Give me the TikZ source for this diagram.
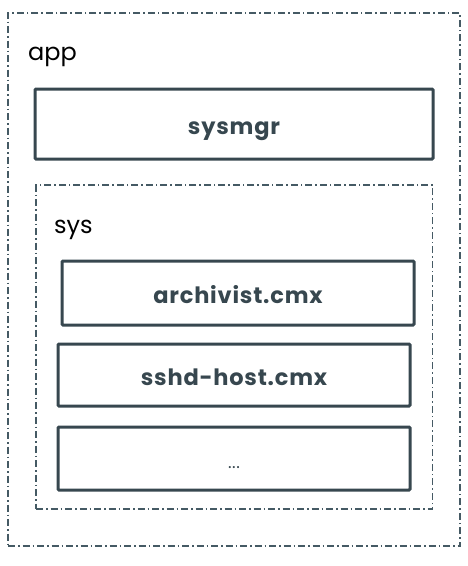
\documentclass[tikz,border=0pt]{standalone}
\usepackage{fontspec}
\setmainfont{Poppins}
\newfontfamily\boxfont{Poppins}[LetterSpace=3.5]
\definecolor{slate}{HTML}{37474F}
\definecolor{dashc}{HTML}{455A64}
\begin{document}
\begin{tikzpicture}[x=1pt,y=-1pt,
  container/.style={draw=dashc, line width=1.3pt, dash pattern=on 7pt off 3pt on 1.5pt off 3pt, rectangle, inner sep=0pt},
  compbox/.style={draw=slate, line width=3pt, rectangle, inner sep=0pt, text=slate, font=\boxfont\bfseries\fontsize{22.5}{28}\selectfont, text height=20pt, text depth=0pt, rounded corners=1pt},
  grouplabel/.style={anchor=base west, inner sep=0pt, font=\fontsize{24}{28}\selectfont, text=black}]
\useasboundingbox (0,0) rectangle (467,566);
\node[container, minimum width=452pt, minimum height=533pt] (app) at (234,279.5) {};
\node[grouplabel] (applabel) at (28,60) {app};
\node[compbox, minimum width=398pt, minimum height=70pt] (sysmgr) at (234,124) {sysmgr};
\node[container, minimum width=396.5pt, minimum height=324pt] (sys) at (234.3,347) {};
\node[grouplabel] (syslabel) at (54,233) {sys};
\node[compbox, minimum width=352pt, minimum height=64pt] (archivist) at (238,293) {archivist.cmx};
\node[compbox, minimum width=352pt, minimum height=62pt] (sshd) at (234,375) {sshd-host.cmx};
\node[compbox, minimum width=352pt, minimum height=63pt, font=\boxfont\fontsize{17}{20}\selectfont] (more) at (234,458.5) {...};
\end{tikzpicture}
\end{document}
